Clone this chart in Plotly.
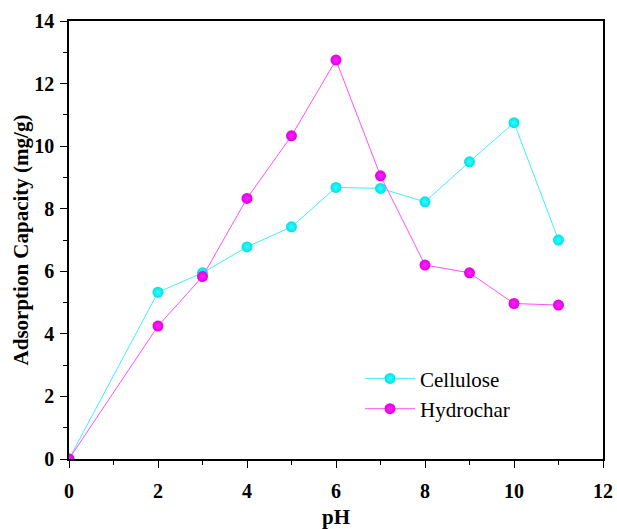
import plotly.graph_objects as go

ph = [0, 2, 3, 4, 5, 6, 7, 8, 9, 10, 11]
cellulose = [0, 5.33, 5.95, 6.78, 7.42, 8.68, 8.65, 8.22, 9.50, 10.75, 7.00]
hydrochar = [0, 4.25, 5.83, 8.33, 10.33, 12.75, 9.05, 6.20, 5.95, 4.97, 4.92]

fig = go.Figure()
fig.add_trace(go.Scatter(
    x=ph, y=cellulose, name="Cellulose", mode="lines+markers",
    line=dict(color="#40F0F0", width=1),
    marker=dict(size=11, color="#00E0E8", symbol="circle",
                gradient=dict(type="radial", color="#30FFFF"),
                line=dict(width=0)),
))
fig.add_trace(go.Scatter(
    x=ph, y=hydrochar, name="Hydrochar", mode="lines+markers",
    line=dict(color="#FF50FF", width=1),
    marker=dict(size=11, color="#E000E0", symbol="circle",
                gradient=dict(type="radial", color="#FF20FF"),
                line=dict(width=0)),
))

axis_common = dict(
    showline=True, linecolor="black", linewidth=1.5, mirror=True,
    ticks="outside", ticklen=7, tickwidth=1.2, tickcolor="black",
    showgrid=False, zeroline=False, automargin=False,
    tickfont=dict(family="Liberation Serif", size=20, color="black", weight="bold"),
)

fig.update_layout(
    width=617, height=529,
    margin=dict(l=69, r=14, t=21, b=70),
    paper_bgcolor="white", plot_bgcolor="white",
    showlegend=True,
    legend=dict(x=0.545, y=0.23, xanchor="left", yanchor="top",
                font=dict(family="Liberation Serif", size=21, color="black"),
                itemwidth=50,
                bgcolor="rgba(0,0,0,0)"),
    xaxis=dict(range=[0, 12], tickvals=[0, 2, 4, 6, 8, 10, 12],
               minor=dict(tickvals=[1, 3, 5, 7, 9, 11], ticks="outside", ticklen=4, tickcolor="black"),
               ticklabelstandoff=6,
               title=dict(text="pH", standoff=20,
                          font=dict(family="Liberation Serif", size=21, color="black", weight="bold")),
               **axis_common),
    yaxis=dict(range=[0, 14], tickvals=[0, 2, 4, 6, 8, 10, 12, 14],
               minor=dict(tickvals=[1, 3, 5, 7, 9, 11, 13], ticks="outside", ticklen=4, tickcolor="black"),
               ticklabelstandoff=2,
               title=dict(text="Adsorption Capacity (mg/g)", standoff=0,
                          font=dict(family="Liberation Serif", size=21, color="black", weight="bold")),
               **axis_common),
)

fig.write_html("out.html")
